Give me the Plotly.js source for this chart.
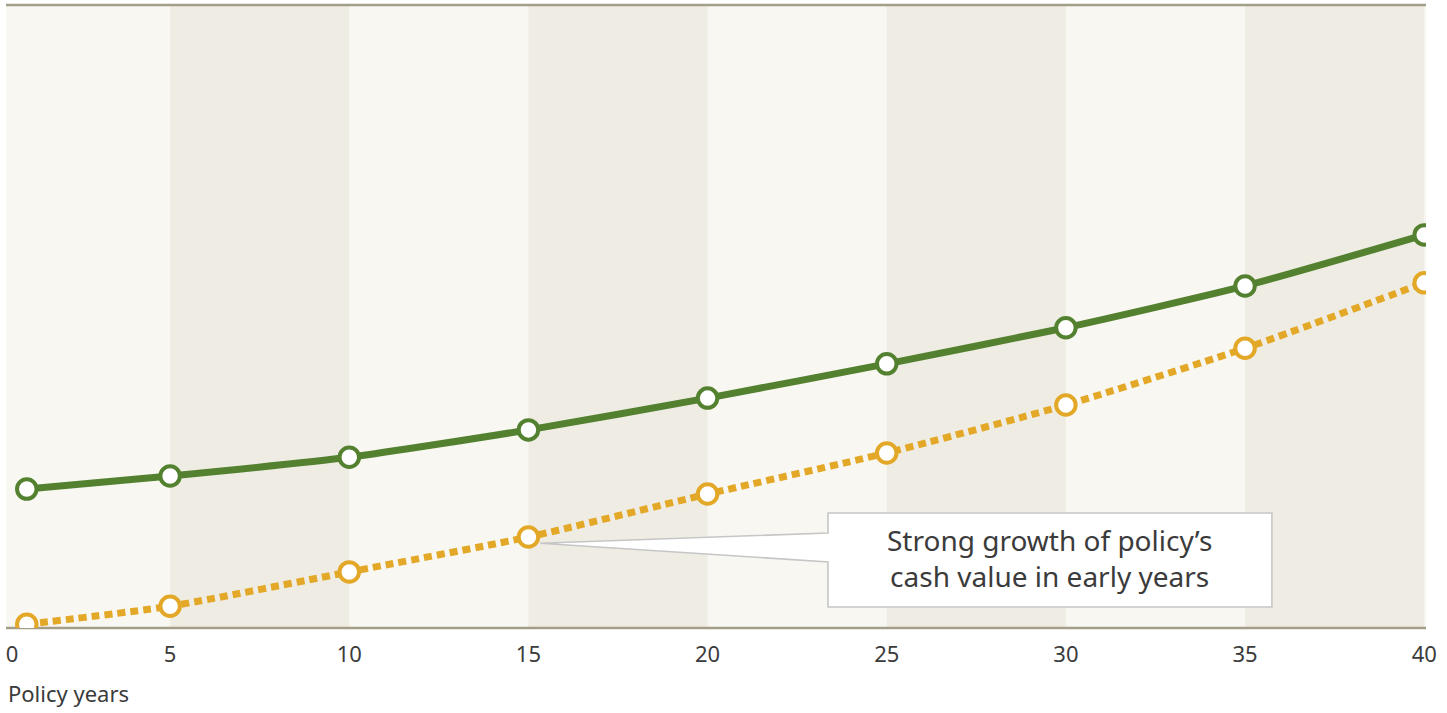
<!DOCTYPE html>
<html>
<head>
<meta charset="utf-8">
<script src="https://cdn.plot.ly/plotly-3.0.1.min.js"></script>
<style>html,body{margin:0;padding:0;background:#fff;}#chart{width:1447px;height:713px;}</style>
</head>
<body>
<div id="chart"></div>
<script>
// Data
const policyYears = [1, 5, 10, 15, 20, 25, 30, 35, 40];
const deathBenefit = [22.3, 24.4, 27.4, 31.8, 36.9, 42.4, 48.2, 54.9, 63.1];
const cashValue = [0.6, 3.5, 9.0, 14.6, 21.5, 28.1, 35.8, 44.9, 55.4];
const tickValues = [0.59, 5, 10, 15, 20, 25, 30, 35, 40];
const tickLabels = ["0", "5", "10", "15", "20", "25", "30", "35", "40"];
const bandEdges = [5, 10, 15, 20, 25, 30, 35, 40];
const calloutLines = ["Strong growth of policy’s", "cash value in early years"];
const xAxisLabel = "Policy years";

const X0 = 0.42, X1 = 40.05, Y0 = 0, Y1 = 100;

const shapes = [];
// alternating darker bands
for (let i = 0; i < bandEdges.length - 1; i += 2) {
  shapes.push({type: 'rect', xref: 'x', yref: 'paper', x0: bandEdges[i], x1: bandEdges[i + 1],
    y0: 0, y1: 1, fillcolor: '#EFEDE3', line: {width: 0}, layer: 'below'});
}
// top and bottom rules
shapes.push({type: 'line', xref: 'paper', yref: 'paper', x0: 0, x1: 1, y0: 1, y1: 1,
  line: {color: '#A39E87', width: 2.5}, layer: 'below'});
shapes.push({type: 'line', xref: 'paper', yref: 'paper', x0: 0, x1: 1, y0: 0, y1: 0,
  line: {color: '#A39E87', width: 2.5}, layer: 'below'});

// callout box with pointer to the year-15 cash value point
const tipX = policyYears[3] + 0.33, tipY = cashValue[3] - 1.0;
const bx0 = 23.36, bx1 = 35.75, by0 = 3.37, by1 = 18.46;
const pUp = 15.25, pLo = 10.6;
shapes.push({type: 'path', xref: 'x', yref: 'y',
  path: `M ${tipX},${tipY} L ${bx0},${pUp} L ${bx0},${by1} L ${bx1},${by1} L ${bx1},${by0} L ${bx0},${by0} L ${bx0},${pLo} Z`,
  fillcolor: '#FFFFFF', line: {color: '#C6C6C6', width: 1.6}, layer: 'below'});

const traces = [
  {x: policyYears, y: deathBenefit, type: 'scatter', mode: 'lines+markers',
   line: {color: '#538130', width: 7, shape: 'spline', smoothing: 0.6},
   marker: {symbol: 'circle', size: 19.5, color: '#FFFFFF', line: {color: '#538130', width: 4}},
   hoverinfo: 'skip'},
  {x: policyYears, y: cashValue, type: 'scatter', mode: 'lines+markers',
   line: {color: '#E3A827', width: 7, dash: '8px,5px', shape: 'spline', smoothing: 0.6},
   marker: {symbol: 'circle', size: 19.5, color: '#FFFFFF', line: {color: '#E3A827', width: 4}},
   hoverinfo: 'skip'}
];

const midX = (bx0 + bx1) / 2;
const layout = {
  width: 1447, height: 713,
  margin: {l: 6, r: 21, t: 5, b: 85},
  paper_bgcolor: '#FFFFFF',
  plot_bgcolor: '#F8F7F2',
  showlegend: false,
  font: {family: 'Noto Sans, sans-serif', color: '#3B3B3B'},
  xaxis: {range: [X0, X1], tickvals: tickValues, ticktext: tickLabels, showgrid: false,
    zeroline: false, showline: false, ticks: '', ticklabelstandoff: 11,
    tickfont: {size: 22, color: '#3B3B3B'}, fixedrange: true},
  yaxis: {range: [Y0, Y1], showgrid: false, zeroline: false, showline: false,
    showticklabels: false, ticks: '', fixedrange: true},
  shapes: shapes,
  annotations: [
    {xref: 'x', yref: 'y', x: midX, y: 11.2, text: calloutLines.join('<br>'), align: 'center',
     showarrow: false, font: {size: 28, color: '#3B3B3B'}, xanchor: 'center', yanchor: 'middle'},
    {xref: 'paper', yref: 'paper', x: 0, y: 0, xanchor: 'left', yanchor: 'middle', yshift: -65, xshift: 0,
     text: xAxisLabel, showarrow: false, font: {size: 22, color: '#3B3B3B'}}
  ]
};

Plotly.newPlot('chart', traces, layout, {displayModeBar: false, staticPlot: true});
</script>
</body>
</html>
